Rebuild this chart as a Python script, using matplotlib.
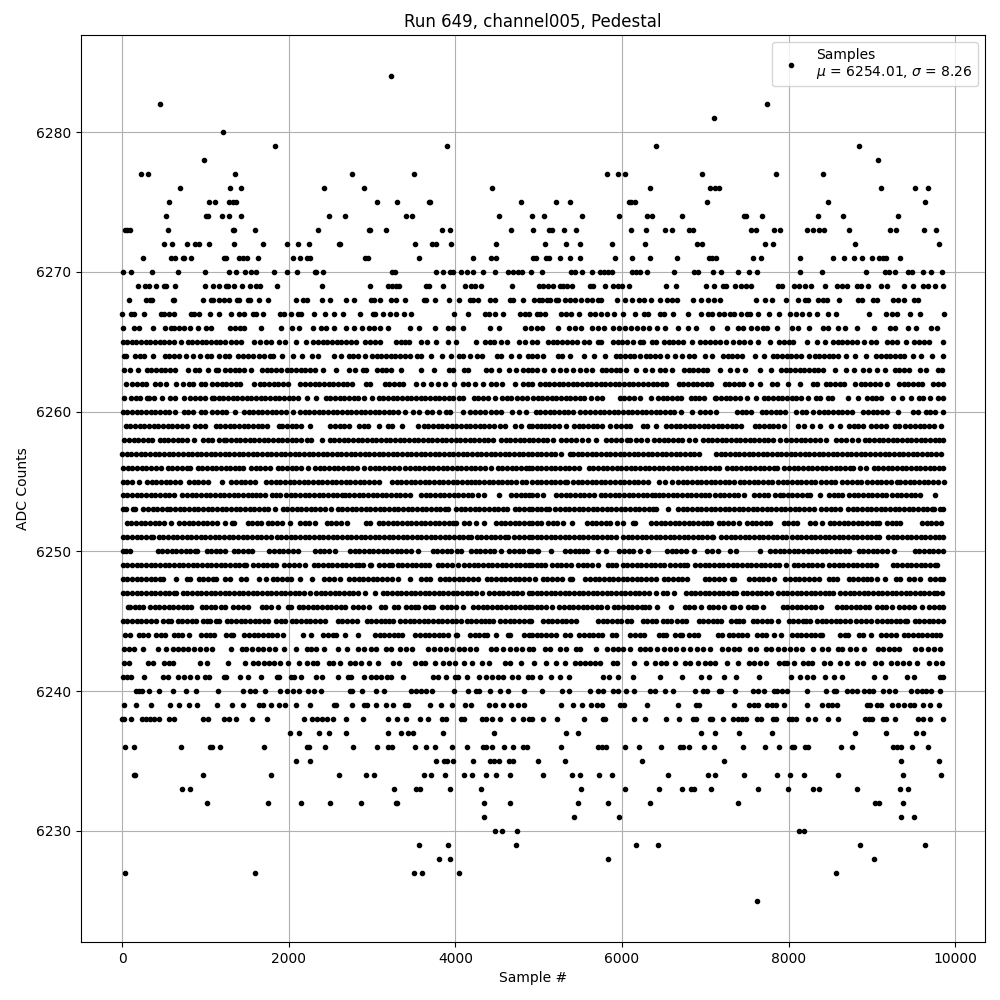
import matplotlib
matplotlib.use('Agg')
import matplotlib.pyplot as plt

# Sample numbers, one list per ADC level.
adc_6284 = [3224]
adc_6282 = [452, 7740]
adc_6281 = [7104]
adc_6280 = [1208]
adc_6279 = [1832, 3896, 6408, 8844]
adc_6278 = [980, 9072]
adc_6277 = [224, 308, 1352, 2756, 3500, 5820, 5952, 6036, 6960, 7848, 8412]
adc_6276 = [692, 1292, 1424, 2420, 2900, 4436, 6336, 7056, 7116, 7164, 9108, 9516, 9672]
adc_6275 = [560, 1040, 1112, 1280, 1328, 1364, 3056, 3296, 3684, 3700, 4784, 5208, 5376, 6084, 6108, 6156, 7020, 8472, 9636]
adc_6274 = [524, 1004, 1028, 1196, 1280, 1424, 2480, 2672, 3404, 3476, 4520, 4920, 5064, 5520, 5964, 6300, 6360, 6720, 7464, 7488, 7680, 8352, 8652, 9312]
adc_6273 = [40, 60, 92, 548, 1328, 1344, 1592, 2348, 2960, 2976, 3164, 3836, 3932, 4664, 4932, 5124, 5160, 5304, 5448, 6108, 6288, 6516, 6600, 6804, 6852, 7548, 7608, 7824, 7896, 8220, 8292, 8364, 8424, 8724, 9216, 9292, 9624, 9768]
adc_6272 = [500, 596, 776, 872, 920, 1040, 1340, 1688, 1976, 2108, 2240, 2600, 2616, 3512, 3716, 3764, 3944, 4484, 5076, 5328, 5496, 5880, 6276, 6900, 6960, 7716, 7812, 8796, 9804]
adc_6271 = [248, 584, 632, 728, 748, 824, 1220, 1244, 1400, 1448, 1496, 1628, 2048, 2132, 2216, 2252, 2912, 2948, 3560, 4208, 4424, 4484, 4932, 4968, 5088, 5124, 5256, 5376, 5496, 5916, 6120, 6336, 6660, 7044, 7080, 7128, 7572, 7668, 8136, 8532, 8664, 8784, 8880, 9000, 9084, 9132, 9168, 9336]
adc_6270 = [8, 104, 356, 668, 992, 1280, 1364, 1472, 1544, 1604, 1820, 1976, 2096, 2312, 2332, 2408, 3236, 3272, 3764, 3848, 3932, 3968, 4064, 4136, 4208, 4328, 4472, 4628, 4692, 4748, 4800, 4908, 5040, 5388, 5436, 5520, 5640, 5736, 5784, 5832, 5880, 6120, 6168, 6216, 6300, 6624, 6864, 6912, 7092, 7188, 7392, 7524, 7620, 8136, 8400, 8928, 9156, 9204, 9276, 9432, 9480, 9612, 9708, 9840]
adc_6269 = [188, 272, 320, 404, 500, 524, 632, 992, 1088, 1160, 1244, 1268, 1340, 1436, 1532, 1604, 1652, 1856, 2396, 2972, 3188, 3236, 3284, 3320, 3644, 3680, 3848, 4112, 4184, 4232, 4304, 4676, 5004, 5052, 5112, 5172, 5252, 5292, 5340, 5400, 5616, 5652, 5796, 5892, 5952, 6000, 6084, 6528, 6648, 7008, 7104, 7212, 7248, 7356, 7428, 7488, 7548, 7872, 7920, 8064, 8124, 8196, 8268, 8436, 8580, 8640, 8700, 8820, 8868, 8952, 9108, 9180, 9384, 9492, 9612, 9672, 9756, 9852]
adc_6268 = [80, 284, 332, 356, 608, 620, 968, 1064, 1088, 1160, 1220, 1280, 1376, 1400, 1508, 1532, 1640, 1748, 2084, 2168, 2216, 2396, 2492, 2684, 2780, 2984, 3020, 3092, 3224, 3284, 3392, 3620, 3644, 3752, 3920, 4040, 4172, 4208, 4268, 4412, 4472, 4652, 4688, 4808, 4944, 5004, 5040, 5100, 5136, 5208, 5232, 5316, 5376, 5436, 5508, 5580, 5640, 5712, 5748, 5940, 6036, 6120, 6204, 6264, 6348, 6456, 6540, 6600, 6660, 6852, 6948, 7032, 7104, 7176, 7608, 7716, 7800, 7968, 8112, 8196, 8232, 8352, 8412, 8460, 8604, 8832, 8880, 9012, 9060, 9252, 9312, 9384, 9504, 9552]
adc_6267 = [0, 104, 140, 260, 464, 500, 560, 620, 824, 860, 920, 1052, 1160, 1304, 1400, 1460, 1568, 1604, 1688, 1892, 1940, 2024, 2108, 2144, 2300, 2432, 2540, 2648, 2852, 3008, 3032, 3128, 3212, 3284, 3380, 3464, 3980, 4148, 4352, 4400, 4472, 4568, 4772, 4832, 4880, 4980, 5016, 5076, 5268, 5328, 5388, 5484, 5616, 5676, 5748, 5820, 5904, 6012, 6156, 6264, 6312, 6456, 6504, 6616, 6792, 6948, 7032, 7080, 7164, 7224, 7296, 7344, 7428, 7500, 7536, 7628, 7768, 7884, 8016, 8088, 8160, 8244, 8340, 8472, 8568, 8964, 9168, 9240, 9300, 9456, 9576, 9864]
adc_6266 = [8, 140, 200, 368, 512, 584, 620, 680, 740, 812, 908, 1004, 1064, 1292, 1352, 1412, 1460, 1664, 1904, 2036, 2120, 2288, 2384, 2444, 2540, 2684, 2780, 2876, 2960, 3020, 3092, 3188, 3452, 3560, 3752, 3908, 3968, 4088, 4412, 4520, 4832, 4908, 4980, 5040, 5232, 5364, 5436, 5508, 5640, 5712, 5784, 5892, 5964, 6036, 6108, 6180, 6252, 6324, 6420, 6516, 6672, 6792, 6888, 7080, 7260, 7392, 7452, 7548, 7620, 7692, 7740, 7860, 8040, 8112, 8244, 8412, 8472, 8592, 8676, 8820, 9024, 9216, 9276, 9432, 9528, 9708, 9780]
adc_6265 = [8, 64, 116, 172, 228, 284, 340, 396, 452, 508, 564, 620, 704, 788, 844, 900, 956, 1012, 1068, 1124, 1180, 1232, 1308, 1364, 1424, 1584, 1652, 1724, 1792, 1880, 1952, 2084, 2208, 2296, 2352, 2408, 2464, 2520, 2576, 2632, 2688, 2744, 2812, 2920, 2976, 3036, 3092, 3288, 3344, 3400, 3444, 3588, 3660, 3772, 3908, 4012, 4248, 4356, 4420, 4464, 4548, 4620, 4768, 4840, 4920, 4980, 5112, 5168, 5224, 5284, 5340, 5404, 5460, 5540, 5604, 5712, 5752, 5892, 5948, 6004, 6060, 6136, 6220, 6256, 6360, 6412, 6500, 6560, 6616, 6676, 6736, 6840, 6936, 7000, 7060, 7116, 7176, 7244, 7332, 7400, 7464, 7540, 7632, 7772, 7888, 7944, 8000, 8056, 8220, 8336, 8436, 8532, 8588, 8644, 8704, 8760, 8824, 8900, 8992, 9044, 9180, 9236, 9296, 9404, 9508, 9564, 9624, 9684, 9852]
adc_6264 = [20, 52, 156, 212, 268, 372, 512, 568, 624, 680, 772, 848, 940, 1016, 1072, 1164, 1232, 1288, 1392, 1456, 1512, 1568, 1640, 1704, 1776, 1812, 1916, 2052, 2156, 2280, 2348, 2548, 2632, 2720, 2776, 2832, 2912, 3000, 3056, 3112, 3168, 3224, 3280, 3336, 3392, 3452, 3536, 3592, 3704, 3836, 3944, 4040, 4096, 4172, 4256, 4320, 4496, 4552, 4672, 4768, 4872, 4920, 4976, 5056, 5232, 5284, 5380, 5544, 5660, 5792, 5924, 5980, 6036, 6092, 6148, 6212, 6284, 6340, 6396, 6452, 6540, 6636, 6724, 6804, 6860, 7000, 7084, 7212, 7268, 7324, 7380, 7440, 7596, 7708, 7808, 7864, 7920, 7976, 8032, 8088, 8144, 8240, 8312, 8368, 8424, 8480, 8536, 8596, 8692, 8792, 8932, 9052, 9108, 9164, 9220, 9276, 9332, 9388, 9488, 9592, 9720, 9852]
adc_6263 = [28, 92, 188, 296, 352, 408, 464, 520, 576, 632, 792, 880, 920, 1028, 1128, 1152, 1240, 1296, 1352, 1408, 1468, 1552, 1680, 1736, 1792, 1848, 1912, 1976, 2032, 2088, 2144, 2200, 2256, 2312, 2412, 2564, 2720, 2792, 2896, 2932, 3060, 3116, 3172, 3228, 3352, 3592, 3740, 3928, 3972, 4108, 4152, 4368, 4432, 4520, 4648, 4732, 4816, 4872, 4920, 4976, 5068, 5172, 5252, 5332, 5412, 5492, 5572, 5644, 5756, 5812, 5868, 5924, 5980, 6052, 6172, 6272, 6364, 6460, 6512, 6604, 6744, 6800, 6856, 6912, 6968, 7024, 7180, 7300, 7380, 7480, 7660, 7792, 7908, 7964, 8020, 8076, 8132, 8188, 8244, 8300, 8356, 8412, 8552, 8692, 8780, 8892, 8964, 9064, 9156, 9272, 9328, 9384, 9440, 9580, 9644, 9792, 9844]
adc_6262 = [52, 120, 180, 236, 292, 400, 460, 528, 648, 732, 800, 852, 948, 1000, 1084, 1140, 1196, 1252, 1308, 1364, 1420, 1580, 1652, 1708, 1764, 1820, 1876, 1932, 1988, 2140, 2200, 2256, 2312, 2368, 2424, 2480, 2536, 2592, 2648, 2704, 2760, 2932, 2972, 3152, 3208, 3264, 3320, 3376, 3528, 3612, 3708, 3788, 3880, 3988, 4092, 4148, 4240, 4332, 4432, 4488, 4560, 4720, 4812, 4868, 4920, 5016, 5072, 5128, 5184, 5240, 5296, 5352, 5408, 5464, 5520, 5576, 5632, 5688, 5744, 5800, 5856, 5912, 5968, 6024, 6080, 6136, 6192, 6248, 6312, 6368, 6424, 6480, 6532, 6680, 6736, 6792, 6848, 6904, 6960, 7016, 7072, 7232, 7288, 7344, 7400, 7456, 7544, 7652, 7800, 7860, 7992, 8136, 8292, 8340, 8444, 8500, 8556, 8612, 8668, 8792, 8864, 8920, 8976, 9032, 9092, 9180, 9324, 9380, 9436, 9492, 9548, 9604, 9732, 9792, 9852]
adc_6261 = [20, 108, 164, 220, 300, 328, 380, 480, 572, 640, 748, 812, 880, 936, 992, 1080, 1104, 1160, 1216, 1272, 1328, 1384, 1440, 1496, 1552, 1608, 1664, 1720, 1776, 1832, 1888, 1944, 2000, 2056, 2112, 2220, 2332, 2444, 2500, 2556, 2612, 2668, 2724, 2780, 2836, 2900, 3000, 3080, 3136, 3192, 3248, 3304, 3360, 3416, 3472, 3528, 3584, 3640, 3696, 3752, 3808, 3864, 3920, 3968, 4040, 4092, 4220, 4276, 4332, 4388, 4480, 4560, 4616, 4672, 4740, 4800, 4864, 4932, 4988, 5044, 5100, 5156, 5212, 5268, 5324, 5380, 5436, 5492, 5548, 5632, 5704, 5764, 5972, 6028, 6084, 6140, 6212, 6352, 6432, 6488, 6544, 6600, 6656, 6712, 6824, 6872, 6928, 6984, 7112, 7132, 7188, 7244, 7300, 7356, 7412, 7500, 7612, 7700, 7756, 7812, 7868, 7924, 7980, 8036, 8092, 8148, 8236, 8324, 8372, 8472, 8524, 8712, 8832, 8940, 8996, 9052, 9108, 9252, 9364, 9472, 9560, 9616, 9692, 9792, 9852]
adc_6260 = [8, 64, 120, 176, 232, 288, 344, 400, 456, 512, 568, 636, 740, 792, 848, 944, 1000, 1084, 1140, 1196, 1252, 1356, 1460, 1520, 1572, 1628, 1684, 1740, 1796, 1852, 1908, 1964, 2052, 2136, 2192, 2248, 2304, 2360, 2416, 2472, 2528, 2584, 2640, 2696, 2752, 2808, 2864, 2920, 2976, 3032, 3088, 3144, 3200, 3256, 3312, 3392, 3492, 3560, 3660, 3716, 3800, 3884, 3940, 4092, 4180, 4240, 4296, 4352, 4432, 4492, 4548, 4680, 4760, 4852, 4964, 5020, 5076, 5132, 5188, 5244, 5300, 5356, 5412, 5500, 5552, 5620, 5676, 5732, 5788, 5844, 5900, 5956, 6012, 6068, 6124, 6180, 6236, 6292, 6348, 6404, 6460, 6516, 6572, 6628, 6712, 6836, 6940, 6996, 7052, 7124, 7380, 7436, 7492, 7548, 7684, 7732, 7788, 7844, 7900, 7956, 8092, 8164, 8212, 8292, 8364, 8420, 8476, 8532, 8588, 8644, 8700, 8756, 8892, 8952, 9008, 9064, 9120, 9176, 9312, 9492, 9552, 9652, 9692, 9752, 9850]
adc_6259 = [44, 100, 156, 212, 268, 324, 380, 436, 492, 548, 604, 660, 716, 784, 880, 936, 1000, 1124, 1180, 1236, 1292, 1348, 1404, 1460, 1516, 1572, 1628, 1684, 1740, 1880, 1924, 1980, 2036, 2092, 2152, 2252, 2500, 2556, 2612, 2668, 2724, 2840, 2900, 2956, 3080, 3188, 3244, 3360, 3548, 3620, 3676, 3732, 3788, 3844, 3900, 3956, 4012, 4068, 4124, 4180, 4236, 4292, 4348, 4400, 4460, 4540, 4600, 4720, 4788, 4880, 4920, 4976, 5032, 5072, 5128, 5184, 5240, 5332, 5424, 5480, 5536, 5592, 5648, 5704, 5760, 5852, 5932, 5988, 6044, 6100, 6252, 6300, 6412, 6532, 6588, 6644, 6700, 6756, 6812, 6868, 6924, 6980, 7036, 7092, 7148, 7204, 7260, 7316, 7372, 7428, 7592, 7648, 7704, 7760, 7816, 7872, 7944, 8112, 8180, 8284, 8380, 8512, 8612, 8724, 8780, 8836, 8892, 8988, 9052, 9108, 9164, 9272, 9324, 9392, 9460, 9516, 9572, 9628, 9684, 9740, 9832]
adc_6258 = [28, 84, 140, 196, 252, 308, 364, 452, 500, 556, 612, 668, 724, 780, 860, 972, 1028, 1084, 1160, 1220, 1252, 1308, 1364, 1420, 1476, 1532, 1588, 1644, 1700, 1756, 1812, 1868, 1924, 1980, 2036, 2092, 2148, 2220, 2272, 2404, 2492, 2548, 2604, 2660, 2716, 2772, 2828, 2884, 2940, 2996, 3052, 3108, 3164, 3220, 3276, 3332, 3388, 3444, 3500, 3556, 3612, 3668, 3724, 3780, 3836, 3892, 3948, 4004, 4060, 4116, 4172, 4228, 4284, 4340, 4396, 4452, 4548, 4604, 4660, 4716, 4772, 4828, 4880, 4936, 4992, 5048, 5104, 5176, 5272, 5332, 5388, 5444, 5520, 5592, 5692, 5812, 5868, 5924, 5984, 6060, 6100, 6172, 6232, 6300, 6380, 6444, 6500, 6556, 6612, 6668, 6724, 6800, 6876, 6972, 7028, 7084, 7140, 7196, 7252, 7308, 7364, 7420, 7476, 7532, 7588, 7644, 7700, 7756, 7812, 7900, 7972, 8032, 8088, 8144, 8200, 8260, 8316, 8380, 8452, 8572, 8628, 8684, 8760, 8832, 8912, 8968, 9024, 9080, 9136, 9192, 9248, 9304, 9360, 9416, 9472, 9528, 9584, 9640, 9696, 9752, 9808, 9852]
adc_6257 = [0, 56, 112, 168, 224, 280, 336, 392, 448, 504, 560, 616, 672, 728, 788, 840, 896, 952, 1008, 1064, 1120, 1176, 1232, 1288, 1344, 1400, 1456, 1512, 1568, 1624, 1680, 1736, 1792, 1848, 1904, 1960, 2016, 2072, 2128, 2184, 2240, 2296, 2352, 2408, 2464, 2520, 2576, 2632, 2688, 2744, 2800, 2856, 2912, 2968, 3024, 3080, 3136, 3192, 3248, 3304, 3360, 3416, 3472, 3528, 3584, 3640, 3696, 3752, 3808, 3864, 3920, 3976, 4032, 4088, 4144, 4200, 4256, 4312, 4368, 4424, 4480, 4536, 4592, 4648, 4704, 4760, 4816, 4872, 4920, 4976, 5032, 5088, 5144, 5200, 5268, 5372, 5412, 5468, 5524, 5580, 5636, 5692, 5748, 5804, 5860, 5916, 5972, 6028, 6084, 6140, 6196, 6252, 6308, 6364, 6420, 6476, 6532, 6588, 6644, 6700, 6756, 6812, 6868, 6924, 7128, 7184, 7240, 7296, 7352, 7408, 7464, 7520, 7576, 7632, 7688, 7744, 7800, 7856, 7912, 7968, 8024, 8080, 8136, 8192, 8248, 8304, 8360, 8416, 8472, 8528, 8584, 8640, 8696, 8752, 8808, 8864, 8920, 8976, 9040, 9096, 9152, 9208, 9264, 9320, 9376, 9432, 9488, 9544, 9600, 9656, 9712, 9768, 9824]
adc_6256 = [8, 68, 124, 180, 236, 292, 348, 404, 464, 548, 604, 660, 720, 776, 812, 908, 964, 1020, 1076, 1132, 1188, 1244, 1300, 1356, 1400, 1452, 1548, 1604, 1660, 1716, 1772, 1868, 1924, 1980, 2036, 2092, 2152, 2232, 2316, 2372, 2428, 2484, 2540, 2596, 2652, 2708, 2764, 2820, 2904, 2976, 3032, 3088, 3144, 3200, 3260, 3320, 3400, 3456, 3512, 3568, 3624, 3680, 3736, 3792, 3848, 3904, 3960, 4016, 4072, 4128, 4184, 4240, 4296, 4352, 4432, 4508, 4564, 4620, 4676, 4732, 4788, 4844, 4880, 4920, 4976, 5032, 5088, 5144, 5200, 5256, 5312, 5368, 5424, 5484, 5600, 5656, 5712, 5768, 5824, 5880, 5936, 5992, 6048, 6104, 6160, 6216, 6272, 6328, 6384, 6440, 6496, 6552, 6608, 6664, 6720, 6776, 6832, 6888, 6944, 7000, 7056, 7112, 7164, 7260, 7316, 7372, 7428, 7484, 7540, 7596, 7652, 7708, 7764, 7820, 7864, 7948, 8004, 8060, 8116, 8172, 8228, 8284, 8340, 8396, 8452, 8508, 8564, 8620, 8676, 8732, 8776, 8860, 8924, 9020, 9076, 9132, 9188, 9244, 9300, 9356, 9412, 9468, 9524, 9580, 9636, 9692, 9748, 9804, 9852]
adc_6255 = [8, 64, 120, 208, 300, 356, 412, 468, 524, 580, 636, 696, 804, 860, 916, 972, 1028, 1200, 1312, 1368, 1424, 1480, 1536, 1600, 1732, 1788, 1844, 1900, 1956, 2012, 2068, 2124, 2180, 2236, 2292, 2348, 2404, 2460, 2516, 2572, 2628, 2684, 2740, 2796, 2852, 2908, 2964, 3020, 3080, 3240, 3296, 3352, 3408, 3464, 3520, 3576, 3632, 3688, 3744, 3800, 3856, 3912, 3968, 4024, 4080, 4136, 4192, 4232, 4288, 4344, 4400, 4456, 4512, 4560, 4616, 4672, 4732, 4800, 4852, 4920, 4976, 5032, 5088, 5144, 5200, 5256, 5312, 5340, 5412, 5468, 5524, 5580, 5636, 5692, 5748, 5800, 5860, 5916, 5972, 6028, 6084, 6140, 6196, 6252, 6312, 6440, 6520, 6600, 6672, 6728, 6784, 6840, 6900, 6952, 7008, 7064, 7120, 7176, 7232, 7288, 7340, 7412, 7468, 7524, 7580, 7636, 7692, 7748, 7796, 7872, 7928, 7984, 8040, 8096, 8152, 8208, 8264, 8320, 8392, 8448, 8504, 8560, 8640, 8704, 8760, 8816, 8872, 8940, 9000, 9056, 9112, 9168, 9224, 9296, 9340, 9396, 9452, 9508, 9564, 9620, 9676, 9732, 9788, 9860]
adc_6254 = [8, 64, 120, 176, 232, 288, 344, 400, 456, 512, 568, 624, 724, 780, 836, 892, 948, 1004, 1060, 1116, 1172, 1228, 1284, 1340, 1396, 1452, 1508, 1564, 1604, 1656, 1712, 1796, 1852, 1900, 1968, 2024, 2080, 2136, 2192, 2248, 2304, 2360, 2416, 2472, 2528, 2584, 2640, 2672, 2728, 2784, 2840, 2896, 2952, 3008, 3060, 3116, 3172, 3228, 3284, 3340, 3396, 3452, 3588, 3644, 3700, 3756, 3812, 3868, 3924, 3980, 4036, 4092, 4148, 4204, 4272, 4340, 4520, 4672, 4728, 4784, 4840, 4880, 4924, 4980, 5052, 5212, 5268, 5324, 5380, 5436, 5492, 5548, 5604, 5660, 5752, 5800, 5856, 5912, 5968, 6024, 6080, 6136, 6192, 6248, 6304, 6360, 6396, 6440, 6496, 6552, 6608, 6664, 6720, 6776, 6832, 6888, 6944, 7000, 7040, 7116, 7172, 7228, 7284, 7340, 7396, 7460, 7584, 7640, 7700, 7748, 7832, 7892, 7932, 7988, 8044, 8100, 8156, 8216, 8252, 8380, 8484, 8540, 8596, 8640, 8724, 8780, 8836, 8892, 8948, 9004, 9060, 9116, 9168, 9240, 9296, 9352, 9408, 9464, 9520, 9576, 9752]
adc_6253 = [8, 52, 136, 160, 256, 312, 368, 424, 480, 536, 572, 636, 692, 748, 804, 860, 916, 972, 1028, 1084, 1140, 1196, 1252, 1308, 1364, 1420, 1476, 1532, 1588, 1644, 1700, 1756, 1832, 1928, 1984, 2040, 2096, 2152, 2208, 2264, 2320, 2376, 2432, 2512, 2588, 2644, 2700, 2756, 2812, 2868, 2924, 2980, 3036, 3092, 3148, 3204, 3260, 3316, 3372, 3428, 3484, 3540, 3596, 3652, 3708, 3764, 3820, 3876, 3912, 4008, 4064, 4120, 4176, 4232, 4288, 4344, 4400, 4460, 4516, 4572, 4624, 4712, 4768, 4824, 4880, 4920, 4976, 5032, 5088, 5124, 5200, 5256, 5312, 5368, 5424, 5480, 5536, 5592, 5648, 5704, 5760, 5816, 5872, 5928, 5984, 6040, 6096, 6152, 6208, 6264, 6320, 6376, 6404, 6552, 6672, 6728, 6784, 6840, 6896, 6952, 7008, 7064, 7120, 7176, 7232, 7288, 7344, 7400, 7456, 7512, 7568, 7624, 7680, 7736, 7792, 7848, 7904, 7960, 8016, 8072, 8128, 8184, 8240, 8304, 8392, 8448, 8504, 8560, 8616, 8712, 8768, 8824, 8880, 8936, 8992, 9048, 9104, 9160, 9216, 9272, 9328, 9384, 9440, 9496, 9552, 9608, 9664, 9720, 9744, 9820, 9856]
adc_6252 = [56, 112, 168, 224, 280, 336, 392, 448, 504, 584, 688, 744, 800, 856, 912, 968, 1024, 1080, 1136, 1232, 1320, 1344, 1508, 1564, 1620, 1664, 1748, 1804, 1860, 1916, 2012, 2136, 2192, 2248, 2312, 2456, 2512, 2568, 2624, 2704, 2928, 2972, 3080, 3136, 3192, 3248, 3304, 3360, 3416, 3472, 3528, 3584, 3640, 3696, 3752, 3808, 3864, 3920, 3976, 4012, 4108, 4164, 4252, 4340, 4488, 4544, 4600, 4656, 4712, 4768, 4824, 4880, 4920, 4976, 5032, 5112, 5168, 5224, 5296, 5404, 5580, 5636, 5692, 5748, 5804, 5860, 5944, 6012, 6128, 6152, 6352, 6408, 6464, 6520, 6576, 6632, 6688, 6744, 6800, 6856, 6912, 6968, 7024, 7064, 7160, 7216, 7272, 7328, 7404, 7500, 7556, 7612, 7668, 7724, 7776, 7940, 7996, 8052, 8104, 8260, 8320, 8404, 8492, 8548, 8604, 8660, 8716, 8772, 8828, 8884, 8940, 8996, 9052, 9084, 9180, 9236, 9292, 9332, 9600, 9656, 9712, 9768, 9824]
adc_6251 = [8, 64, 120, 176, 232, 288, 344, 372, 440, 496, 552, 608, 664, 720, 776, 832, 888, 944, 1000, 1056, 1112, 1168, 1224, 1280, 1336, 1392, 1448, 1504, 1560, 1616, 1672, 1728, 1792, 1856, 1912, 1968, 2024, 2080, 2136, 2192, 2248, 2304, 2360, 2416, 2472, 2528, 2584, 2640, 2696, 2752, 2808, 2864, 2920, 2976, 3032, 3088, 3144, 3200, 3256, 3312, 3368, 3424, 3480, 3536, 3592, 3648, 3704, 3760, 3816, 3872, 3928, 3984, 4040, 4096, 4152, 4192, 4256, 4312, 4368, 4424, 4480, 4536, 4592, 4632, 4708, 4764, 4820, 4880, 4920, 4976, 5032, 5088, 5144, 5200, 5256, 5312, 5368, 5424, 5480, 5536, 5592, 5648, 5704, 5760, 5816, 5872, 5932, 6012, 6068, 6124, 6180, 6236, 6292, 6348, 6404, 6460, 6516, 6572, 6628, 6684, 6740, 6796, 6852, 6908, 6964, 7020, 7076, 7096, 7192, 7248, 7304, 7360, 7416, 7472, 7528, 7584, 7640, 7696, 7752, 7808, 7864, 7920, 7964, 8040, 8096, 8152, 8208, 8264, 8320, 8376, 8432, 8488, 8544, 8600, 8656, 8712, 8768, 8824, 8880, 8936, 8992, 9048, 9084, 9192, 9248, 9304, 9360, 9416, 9472, 9528, 9584, 9640, 9696, 9752, 9808, 9848]
adc_6250 = [8, 52, 92, 428, 484, 540, 596, 652, 708, 764, 820, 876, 904, 1016, 1072, 1128, 1176, 1232, 1340, 1396, 1452, 1508, 1560, 1768, 1824, 1880, 1936, 1992, 2048, 2112, 2316, 2372, 2428, 2484, 2552, 2736, 2792, 2848, 2904, 2960, 3016, 3072, 3128, 3184, 3240, 3296, 3352, 3408, 3464, 3552, 3728, 3784, 3840, 3896, 3952, 4016, 4072, 4188, 4244, 4300, 4356, 4412, 4468, 4552, 4648, 4704, 4760, 4816, 4880, 4920, 4976, 4992, 5152, 5320, 5376, 5432, 5488, 5528, 5584, 5712, 5812, 5968, 6024, 6080, 6132, 6212, 6312, 6540, 6596, 6652, 6708, 6764, 6864, 7020, 7076, 7152, 7292, 7372, 7660, 7780, 7836, 7892, 7948, 8004, 8060, 8116, 8172, 8228, 8284, 8340, 8396, 8452, 8508, 8564, 8620, 8680, 8724, 8840, 8896, 8952, 9008, 9064, 9120, 9176, 9264, 9512, 9568, 9624, 9680, 9736, 9792, 9852]
adc_6249 = [8, 64, 120, 176, 232, 288, 344, 400, 456, 512, 568, 624, 680, 736, 792, 848, 904, 960, 1016, 1072, 1128, 1184, 1240, 1296, 1352, 1408, 1464, 1492, 1576, 1632, 1688, 1744, 1800, 1852, 1948, 2004, 2060, 2120, 2192, 2300, 2356, 2412, 2468, 2524, 2580, 2636, 2692, 2748, 2804, 2848, 2892, 2976, 2992, 3088, 3144, 3200, 3240, 3308, 3364, 3420, 3476, 3532, 3588, 3636, 3680, 3788, 3844, 3900, 3956, 4032, 4108, 4164, 4220, 4276, 4332, 4388, 4444, 4500, 4556, 4612, 4668, 4724, 4780, 4836, 4880, 4920, 4976, 5032, 5072, 5160, 5216, 5272, 5328, 5384, 5472, 5528, 5584, 5640, 5712, 5832, 5880, 5924, 6008, 6064, 6120, 6176, 6232, 6288, 6344, 6400, 6456, 6504, 6580, 6636, 6692, 6740, 6784, 6880, 6936, 6992, 7048, 7104, 7160, 7216, 7272, 7328, 7384, 7440, 7496, 7552, 7608, 7664, 7720, 7776, 7832, 7888, 7964, 8060, 8116, 8172, 8228, 8284, 8340, 8404, 8488, 8544, 8600, 8656, 8712, 8768, 8824, 8880, 8936, 8992, 9044, 9248, 9304, 9360, 9416, 9472, 9528, 9584, 9640, 9696, 9752, 9784]
adc_6248 = [8, 64, 120, 176, 232, 288, 344, 400, 456, 492, 652, 776, 812, 920, 976, 1032, 1088, 1132, 1236, 1292, 1428, 1484, 1648, 1732, 1808, 1864, 1920, 1980, 2024, 2140, 2280, 2428, 2484, 2540, 2612, 2728, 2784, 2840, 2896, 2952, 3008, 3064, 3120, 3176, 3240, 3312, 3460, 3588, 3644, 3692, 3816, 3872, 3928, 3984, 4040, 4096, 4152, 4208, 4272, 4376, 4432, 4488, 4544, 4600, 4656, 4712, 4768, 4824, 4880, 4952, 5048, 5104, 5160, 5216, 5284, 5380, 5404, 5560, 5616, 5672, 5728, 5784, 5840, 5896, 5952, 6008, 6064, 6120, 6176, 6232, 6288, 6344, 6404, 6500, 6556, 6612, 6668, 6724, 6784, 6992, 7048, 7104, 7160, 7224, 7320, 7344, 7528, 7584, 7640, 7696, 7752, 7824, 7960, 8016, 8072, 8128, 8184, 8240, 8300, 8364, 8480, 8536, 8584, 8720, 8776, 8832, 8888, 8936, 8984, 9060, 9152, 9288, 9340, 9448, 9504, 9580, 9700, 9756, 9816, 9852]
adc_6247 = [8, 64, 120, 176, 232, 288, 344, 400, 456, 512, 568, 624, 652, 728, 784, 840, 896, 952, 1008, 1064, 1120, 1176, 1232, 1288, 1344, 1400, 1456, 1512, 1568, 1624, 1680, 1736, 1792, 1848, 1904, 1960, 2016, 2072, 2128, 2184, 2252, 2328, 2384, 2440, 2496, 2552, 2608, 2664, 2720, 2776, 2832, 2912, 3036, 3128, 3184, 3240, 3296, 3352, 3408, 3464, 3520, 3576, 3632, 3688, 3744, 3800, 3856, 3912, 3968, 4024, 4080, 4136, 4192, 4248, 4320, 4408, 4464, 4520, 4576, 4632, 4688, 4744, 4800, 4880, 4920, 4976, 5032, 5088, 5144, 5200, 5256, 5312, 5368, 5424, 5480, 5536, 5592, 5648, 5704, 5760, 5816, 5872, 5928, 5984, 6040, 6096, 6152, 6208, 6264, 6320, 6404, 6488, 6544, 6624, 6768, 6824, 6880, 6936, 6992, 7048, 7104, 7160, 7216, 7272, 7328, 7364, 7448, 7504, 7560, 7616, 7672, 7728, 7784, 7872, 7928, 7984, 8040, 8096, 8152, 8208, 8264, 8320, 8376, 8432, 8488, 8536, 8620, 8676, 8732, 8788, 8844, 8900, 8956, 9012, 9068, 9124, 9180, 9236, 9292, 9348, 9404, 9460, 9516, 9572, 9628, 9684, 9740, 9776, 9840]
adc_6246 = [68, 92, 160, 208, 252, 336, 392, 448, 504, 560, 616, 672, 728, 784, 832, 956, 1012, 1068, 1112, 1188, 1232, 1336, 1392, 1448, 1512, 1676, 1732, 1788, 1872, 1988, 2024, 2120, 2176, 2232, 2288, 2344, 2400, 2456, 2512, 2568, 2624, 2680, 2776, 2832, 2888, 2960, 3108, 3152, 3260, 3312, 3408, 3464, 3520, 3552, 3636, 3692, 3732, 3840, 3896, 3952, 4008, 4092, 4216, 4272, 4328, 4384, 4440, 4496, 4552, 4608, 4664, 4720, 4776, 4832, 4880, 4920, 4976, 5032, 5088, 5164, 5248, 5304, 5360, 5416, 5472, 5528, 5584, 5640, 5696, 5752, 5816, 5900, 5956, 6012, 6068, 6124, 6180, 6236, 6280, 6324, 6420, 6592, 6752, 6808, 6864, 6948, 7040, 7096, 7152, 7224, 7316, 7340, 7420, 7512, 7568, 7608, 7692, 7928, 7984, 8040, 8096, 8152, 8208, 8264, 8320, 8384, 8580, 8636, 8692, 8748, 8804, 8860, 8916, 8964, 9060, 9116, 9172, 9244, 9328, 9384, 9440, 9504, 9604, 9688, 9744, 9800, 9856]
adc_6245 = [8, 64, 120, 176, 232, 288, 344, 412, 496, 552, 584, 668, 724, 780, 836, 892, 968, 1024, 1052, 1128, 1160, 1256, 1312, 1368, 1424, 1480, 1536, 1592, 1648, 1704, 1752, 1848, 1904, 1952, 2036, 2092, 2148, 2204, 2260, 2316, 2380, 2440, 2588, 2644, 2700, 2756, 2824, 2936, 2992, 3048, 3104, 3160, 3200, 3252, 3340, 3396, 3452, 3508, 3564, 3620, 3676, 3732, 3788, 3844, 3900, 3956, 4012, 4072, 4136, 4192, 4248, 4304, 4360, 4404, 4452, 4540, 4596, 4652, 4708, 4764, 4820, 4880, 4912, 5052, 5108, 5164, 5220, 5276, 5332, 5388, 5452, 5712, 5768, 5824, 5880, 5936, 5992, 6056, 6112, 6248, 6304, 6360, 6404, 6488, 6544, 6584, 6660, 6716, 6764, 6920, 6976, 7032, 7088, 7136, 7192, 7308, 7364, 7404, 7456, 7568, 7624, 7680, 7736, 7792, 7872, 8000, 8056, 8112, 8168, 8212, 8256, 8340, 8396, 8452, 8508, 8564, 8620, 8676, 8732, 8804, 8872, 8928, 8984, 9060, 9120, 9176, 9232, 9288, 9340, 9396, 9424, 9512, 9568, 9624, 9680, 9736, 9792, 9848]
adc_6244 = [40, 92, 200, 256, 312, 408, 464, 512, 620, 676, 720, 800, 948, 1004, 1060, 1104, 1248, 1304, 1332, 1468, 1524, 1580, 1636, 1692, 1748, 1804, 1860, 1932, 2168, 2272, 2416, 2472, 2528, 2564, 2672, 2828, 3036, 3092, 3148, 3204, 3260, 3316, 3360, 3520, 3576, 3632, 3688, 3744, 3800, 3856, 3912, 4008, 4024, 4176, 4232, 4288, 4340, 4384, 4488, 4628, 4652, 4828, 4880, 4920, 4976, 5032, 5088, 5144, 5204, 5312, 5380, 5488, 5544, 5600, 5656, 5708, 5764, 5880, 5924, 6100, 6156, 6212, 6264, 6440, 6496, 6524, 6640, 6696, 6724, 6808, 6864, 6912, 7152, 7204, 7280, 7336, 7392, 7440, 7496, 7620, 7676, 7732, 7824, 7912, 8040, 8096, 8152, 8208, 8264, 8320, 8376, 8404, 8620, 8676, 8712, 8848, 8896, 8992, 9112, 9168, 9224, 9284, 9380, 9436, 9492, 9548, 9604, 9660, 9716, 9764, 9816]
adc_6243 = [20, 80, 140, 248, 428, 524, 608, 668, 728, 788, 860, 932, 1004, 1076, 1312, 1436, 1484, 1556, 1628, 1688, 1760, 1832, 1940, 2084, 2216, 2264, 2324, 2420, 2588, 2696, 2828, 2900, 2984, 3044, 3168, 3224, 3332, 3404, 3476, 3668, 3740, 3812, 3884, 3956, 4040, 4100, 4172, 4244, 4424, 4484, 4568, 4652, 4724, 4796, 4880, 4932, 5076, 5136, 5256, 5328, 5448, 5496, 5688, 5820, 5892, 5952, 6012, 6096, 6216, 6276, 6336, 6420, 6504, 6576, 6648, 6732, 6816, 6900, 6972, 7056, 7200, 7272, 7344, 7404, 7536, 7608, 7728, 7788, 7872, 7944, 8016, 8088, 8160, 8292, 8400, 8472, 8592, 8640, 8736, 8808, 8904, 9072, 9132, 9204, 9264, 9324, 9516, 9588, 9672, 9744, 9816]
adc_6242 = [20, 80, 308, 368, 500, 560, 608, 932, 1016, 1268, 1472, 1568, 1628, 1700, 1760, 1820, 1892, 1988, 2120, 2216, 2288, 2336, 2480, 2528, 2612, 2732, 2792, 2864, 2960, 3068, 3248, 3320, 3512, 3584, 3632, 3752, 3848, 3920, 3992, 4100, 4196, 4316, 4400, 4592, 4660, 4784, 4944, 5088, 5208, 5316, 5436, 5496, 5556, 5616, 5676, 5736, 5892, 5940, 6144, 6288, 6396, 6468, 6528, 6636, 6756, 6816, 6912, 6996, 7056, 7116, 7260, 7392, 7524, 7584, 7656, 7728, 7884, 7944, 7980, 8064, 8172, 8232, 8280, 8424, 8496, 8616, 8700, 8820, 8892, 9036, 9108, 9228, 9300, 9372, 9444, 9540, 9684, 9768, 9840]
adc_6241 = [8, 56, 104, 260, 488, 548, 668, 740, 812, 896, 992, 1040, 1220, 1244, 1412, 1508, 1664, 1856, 1880, 2024, 2060, 2144, 2324, 2396, 2588, 2708, 2744, 2900, 2984, 3044, 3104, 3176, 3224, 3368, 3728, 3788, 3884, 3992, 4028, 4136, 4280, 4364, 4436, 4508, 4568, 4676, 4748, 4868, 4920, 5016, 5148, 5256, 5364, 5772, 5844, 5952, 6132, 6456, 6720, 6948, 7044, 7224, 7368, 7644, 8028, 8136, 8220, 8292, 8436, 8544, 8640, 9024, 9156, 9420, 9504, 9816, 9852]
adc_6240 = [164, 200, 236, 320, 440, 608, 764, 884, 1148, 1448, 1532, 1592, 1712, 1892, 1976, 2048, 2120, 2228, 2300, 2384, 2732, 2756, 2876, 3044, 3140, 3464, 3524, 3584, 3644, 3716, 3980, 4148, 4244, 4280, 4412, 4532, 4628, 4820, 5040, 5280, 5364, 5616, 5712, 5772, 5892, 5952, 6048, 6144, 6336, 6396, 6516, 6612, 6876, 6972, 7020, 7164, 7188, 7356, 7572, 7632, 7704, 7824, 7860, 7920, 7980, 8220, 8448, 8544, 8572, 8700, 8760, 8820, 8904, 8964, 9012, 9132, 9204, 9276, 9468, 9540, 9600, 9648, 9708, 9816]
adc_6239 = [20, 164, 344, 572, 680, 800, 896, 1136, 1316, 1448, 1640, 1688, 1784, 1880, 1952, 2084, 2252, 2540, 2564, 2764, 2900, 2936, 3044, 3164, 3248, 3392, 3428, 3700, 3824, 3956, 4112, 4184, 4400, 4472, 4568, 4664, 4748, 4820, 5268, 5412, 5520, 5628, 5700, 5760, 5976, 6024, 6300, 6672, 6888, 6924, 7344, 7524, 7584, 7632, 7740, 7800, 7848, 7944, 8220, 8400, 8472, 8520, 8580, 8940, 8976, 9060, 9108, 9240, 9312, 9384, 9456, 9504, 9612, 9696, 9804]
adc_6238 = [0, 20, 104, 236, 284, 332, 380, 440, 560, 620, 968, 1028, 1220, 1280, 1364, 1556, 1736, 2180, 2276, 2336, 2396, 2456, 2528, 2684, 2888, 3188, 3296, 3404, 3572, 3668, 3836, 3884, 4064, 4100, 4316, 4364, 4436, 4532, 4688, 4808, 4880, 4920, 5052, 5220, 5544, 5772, 5796, 6144, 6276, 6528, 6684, 6852, 6888, 7056, 7080, 7212, 7332, 7392, 7440, 7488, 7620, 7668, 7812, 7848, 8004, 8040, 8088, 8232, 8316, 8472, 8592, 8916, 8964, 9000, 9132, 9168, 9276, 9552, 9612, 9696, 9852]
adc_6237 = [2012, 2120, 2360, 2480, 2684, 3188, 3344, 3428, 3488, 3848, 4460, 5328, 5472, 6948, 7116, 7404, 7800, 8796, 9168, 9528, 9612]
adc_6236 = [32, 140, 704, 1052, 1076, 1172, 1700, 2216, 2240, 2432, 2768, 3056, 3188, 3236, 3512, 3644, 3752, 3956, 4140, 4328, 4364, 4436, 4580, 4688, 4808, 4856, 5268, 5712, 5760, 5808, 6036, 6204, 6468, 6696, 6732, 6804, 6984, 7104, 7452, 7716, 7884, 8040, 8064, 8196, 8232, 8628, 8760, 9252, 9300, 9348, 9480, 9672]
adc_6235 = [2084, 2252, 3764, 3860, 3896, 3968, 4208, 4412, 4460, 4520, 4640, 4688, 4992, 5316, 6240, 7224, 9348, 9804]
adc_6234 = [140, 152, 968, 1784, 2600, 2924, 3020, 3620, 3708, 3872, 4100, 4196, 4364, 4484, 4652, 5052, 5400, 5496, 5724, 5880, 6552, 7032, 7116, 7464, 7860, 8016, 8184, 8592, 9372, 9828]
adc_6233 = [716, 812, 3260, 3524, 3572, 3932, 4304, 5508, 6036, 6444, 6720, 6828, 6864, 7068, 7632, 7992, 8292, 8364, 8820, 9336, 9432]
adc_6232 = [1016, 1748, 2144, 2492, 2864, 3284, 3300, 4340, 4652, 5472, 5832, 6336, 7392, 9036, 9084, 9372]
adc_6231 = [4340, 5424, 5964, 9348, 9504]
adc_6230 = [4472, 4556, 4736, 8124, 8184]
adc_6229 = [3560, 3908, 4724, 6168, 6432, 8856, 9636]
adc_6228 = [3800, 3932, 5832, 9024]
adc_6227 = [32, 1592, 3500, 3596, 4040, 8568]
adc_6225 = [7620]

levels = [6284, 6282, 6281, 6280, 6279, 6278, 6277, 6276, 6275, 6274, 6273, 6272, 6271, 6270,
          6269, 6268, 6267, 6266, 6265, 6264, 6263, 6262, 6261, 6260, 6259, 6258, 6257, 6256,
          6255, 6254, 6253, 6252, 6251, 6250, 6249, 6248, 6247, 6246, 6245, 6244, 6243, 6242,
          6241, 6240, 6239, 6238, 6237, 6236, 6235, 6234, 6233, 6232, 6231, 6230, 6229, 6228,
          6227, 6225]
rows = [adc_6284, adc_6282, adc_6281, adc_6280, adc_6279, adc_6278, adc_6277, adc_6276, adc_6275,
        adc_6274, adc_6273, adc_6272, adc_6271, adc_6270, adc_6269, adc_6268, adc_6267, adc_6266,
        adc_6265, adc_6264, adc_6263, adc_6262, adc_6261, adc_6260, adc_6259, adc_6258, adc_6257,
        adc_6256, adc_6255, adc_6254, adc_6253, adc_6252, adc_6251, adc_6250, adc_6249, adc_6248,
        adc_6247, adc_6246, adc_6245, adc_6244, adc_6243, adc_6242, adc_6241, adc_6240, adc_6239,
        adc_6238, adc_6237, adc_6236, adc_6235, adc_6234, adc_6233, adc_6232, adc_6231, adc_6230,
        adc_6229, adc_6228, adc_6227, adc_6225]

# Flatten to one x and one y list for plotting.
x = []
y = []
for level, row in zip(levels, rows):
    x += row
    y += [level] * len(row)

plt.figure(figsize=(10, 10))
plt.plot(x, y, 'k.', label='Samples\n$\\mu$ = 6254.01, $\\sigma$ = 8.26')
plt.xlabel('Sample #')
plt.ylabel('ADC Counts')
plt.title('Run 649, channel005, Pedestal')
plt.grid(True)
plt.legend(loc='upper right')
# Axes edges as measured on the reference.
plt.subplots_adjust(left=0.081, right=0.985, top=0.965, bottom=0.058)
plt.savefig('out.png', dpi=100)
